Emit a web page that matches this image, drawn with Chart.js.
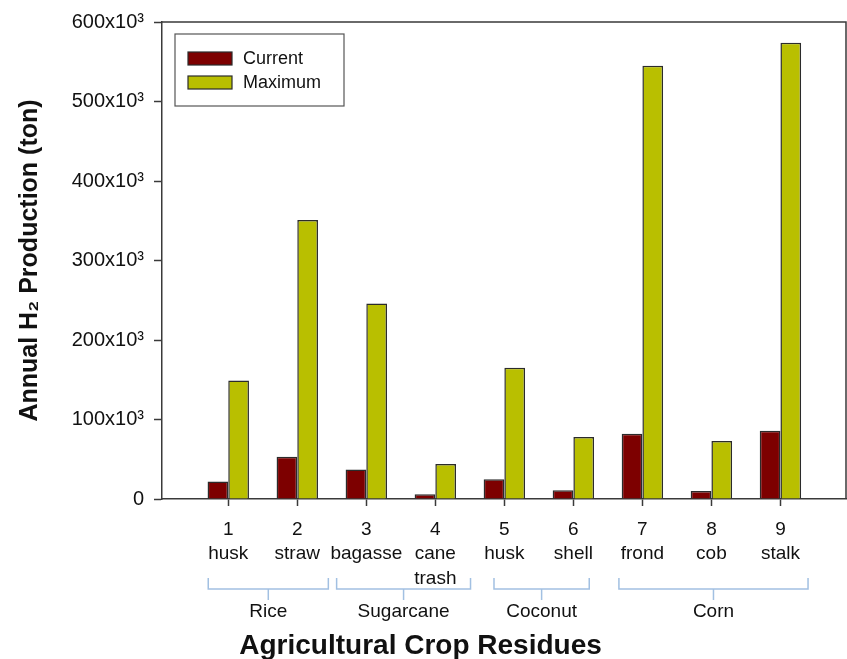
<!DOCTYPE html>
<html>
<head>
<meta charset="utf-8">
<script src="https://cdn.jsdelivr.net/npm/chart.js@4.4.0/dist/chart.umd.min.js"></script>
<style>
  html, body { margin: 0; padding: 0; background: #fff; }
</style>
</head>
<body>
<canvas id="myChart" width="847" height="659"></canvas>
<script>
// data
const categories = [1, 2, 3, 4, 5, 6, 7, 8, 9];
const residueNames = ['husk', 'straw', 'bagasse', ['cane', 'trash'], 'husk', 'shell', 'frond', 'cob', 'stalk'];
const currentValues = [22000, 53000, 37000, 6000, 25000, 11000, 82000, 10000, 86000];
const maximumValues = [149000, 351000, 246000, 44000, 165000, 78000, 545000, 73000, 574000];
const cropGroups = ['Rice', 'Sugarcane', 'Coconut', 'Corn'];
const groupFrom = [0.71, 2.57, 4.85, 6.66];
const groupTo = [2.45, 4.51, 6.23, 9.40];

const FONT = "'Liberation Sans', Arial, Helvetica, sans-serif";
const AXIS_COLOR = '#3a3a3a';

const ctx = document.getElementById('myChart');

const data = {
  datasets: [
    {
      label: 'Current',
      data: categories.map((c, i) => ({ x: c, y: currentValues[i] })),
      backgroundColor: '#7d0000',
      borderColor: '#2b2b2b',
      borderWidth: 1.5,
    },
    {
      label: 'Maximum',
      data: categories.map((c, i) => ({ x: c, y: maximumValues[i] })),
      backgroundColor: '#b9bf00',
      borderColor: '#2b2b2b',
      borderWidth: 1.5,
    },
  ]
};

// frame, legend box, crop brackets and the x title
const decorPlugin = {
  id: 'decor',
  afterDraw(chart) {
    const c = chart.ctx;
    const a = chart.chartArea;
    const x = chart.scales.x;
    c.save();

    // top + right frame
    c.strokeStyle = AXIS_COLOR;
    c.lineWidth = 1.5;
    c.beginPath();
    c.moveTo(a.left, a.top);
    c.lineTo(a.right, a.top);
    c.lineTo(a.right, a.bottom);
    c.stroke();

    // legend
    const lx = a.left + 13, ly = a.top + 12;
    c.strokeStyle = '#555';
    c.lineWidth = 1.2;
    c.strokeRect(lx, ly, 169, 72);
    chart.data.datasets.forEach((ds, i) => {
      const sy = ly + 18 + i * 24;
      c.fillStyle = ds.backgroundColor;
      c.fillRect(lx + 13, sy, 44, 13);
      c.strokeStyle = '#2b2b2b';
      c.lineWidth = 1.2;
      c.strokeRect(lx + 13, sy, 44, 13);
      c.fillStyle = '#111';
      c.font = '18px ' + FONT;
      c.textAlign = 'left';
      c.textBaseline = 'middle';
      c.fillText(ds.label, lx + 68, sy + 7);
    });

    // crop group brackets
    c.strokeStyle = '#a2c0e2';
    c.lineWidth = 1.5;
    c.fillStyle = '#111';
    c.font = '19px ' + FONT;
    c.textAlign = 'center';
    c.textBaseline = 'alphabetic';
    cropGroups.forEach((g, i) => {
      const x0 = x.getPixelForValue(groupFrom[i]);
      const x1 = x.getPixelForValue(groupTo[i]);
      const xm = (x0 + x1) / 2;
      c.beginPath();
      c.moveTo(x0, a.bottom + 79);
      c.lineTo(x0, a.bottom + 90);
      c.lineTo(x1, a.bottom + 90);
      c.lineTo(x1, a.bottom + 79);
      c.moveTo(xm, a.bottom + 90);
      c.lineTo(xm, a.bottom + 101);
      c.stroke();
      c.fillText(g, xm, a.bottom + 118);
    });

    // x axis title
    c.font = 'bold 28px ' + FONT;
    c.fillText('Agricultural Crop Residues', a.left + 0.378 * (a.right - a.left), a.bottom + 155);
    c.restore();
  }
};

const config = {
  type: 'bar',
  data: data,
  options: {
    responsive: false,
    animation: false,
    layout: {
      padding: { top: 21, right: 1, left: 0, bottom: 0 }
    },
    datasets: {
      bar: {
        categoryPercentage: 0.6,
        barPercentage: 1.0,
      }
    },
    plugins: {
      legend: { display: false },
      tooltip: { enabled: false },
    },
    scales: {
      x: {
        type: 'linear',
        offset: false,
        min: 0.04,
        max: 9.95,
        afterBuildTicks: (axis) => {
          axis.ticks = categories.map((c) => ({ value: c }));
        },
        afterFit: (scale) => { scale.height = 160; },
        grid: {
          offset: false,
          drawOnChartArea: false,
          tickLength: 7,
          tickColor: AXIS_COLOR,
          tickWidth: 1.5,
        },
        border: { color: AXIS_COLOR, width: 1.5 },
        ticks: {
          autoSkip: false,
          maxRotation: 0,
          padding: 11,
          color: '#111',
          font: { family: FONT, size: 19, lineHeight: 1.3 },
          callback: (v) => {
            const i = categories.indexOf(v);
            if (i < 0) return '';
            return [String(v)].concat(residueNames[i]);
          },
        },
      },
      y: {
        min: 0,
        max: 600000,
        afterFit: (scale) => { scale.width = 162; },
        grid: {
          drawOnChartArea: false,
          tickLength: 8,
          tickColor: AXIS_COLOR,
          tickWidth: 1.5,
        },
        border: { color: AXIS_COLOR, width: 1.5 },
        ticks: {
          stepSize: 100000,
          padding: 10,
          color: '#111',
          font: { family: FONT, size: 20 },
          callback: (v) => v === 0 ? '0' : (v / 1000) + 'x10³',
        },
        title: {
          display: true,
          text: 'Annual H₂ Production (ton)',
          color: '#111',
          padding: { top: 15, bottom: 0 },
          font: { family: FONT, size: 25, weight: 'bold' },
        },
      },
    },
  },
  plugins: [decorPlugin],
};

let myChart = new Chart(ctx, config);
</script>
</body>
</html>
